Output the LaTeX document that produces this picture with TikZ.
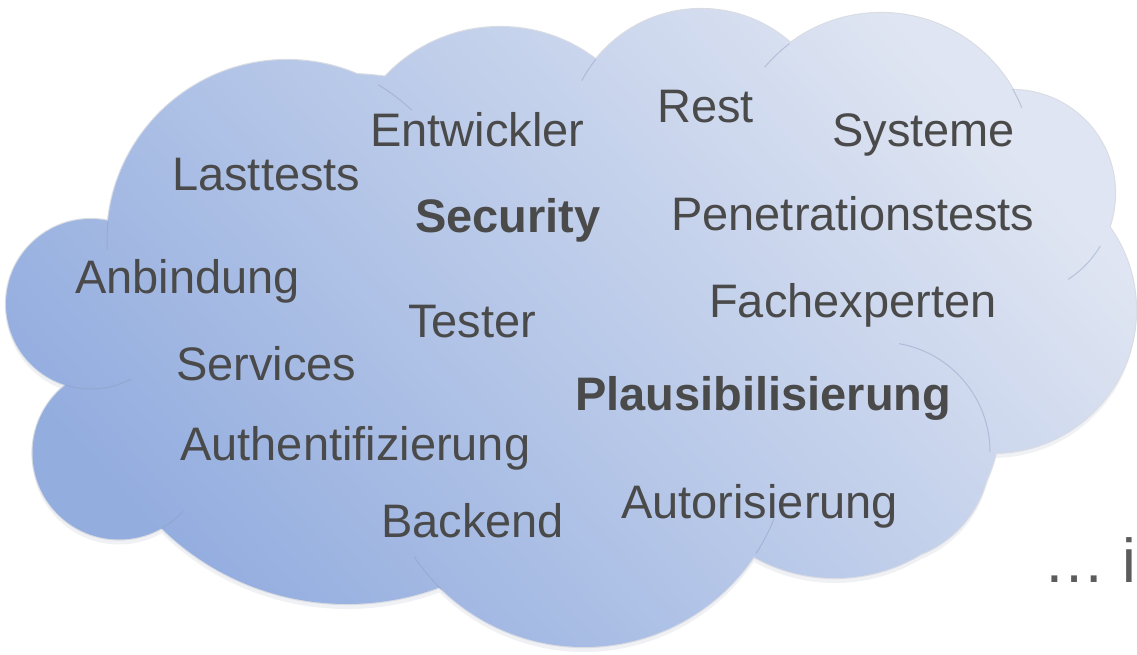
\documentclass[tikz,border=0pt]{standalone}
\usepackage{fontspec}
\setmainfont{Liberation Sans}
\definecolor{cloudA}{HTML}{93ADDF}
\definecolor{cloudB}{HTML}{DFE5F2}
\definecolor{txt}{HTML}{4A4A4A}
\definecolor{rim}{HTML}{D9DCE3}
\definecolor{inner}{HTML}{8C9CBD}
\tikzset{
  cloudshape/.style={insert path={
    (287,240) circle[radius=180]
    (500,185) circle[radius=158]
    (701,144) circle[radius=135]
    (881,165) circle[radius=152]
    (1012,193) circle[radius=103]
    (993,310) circle[radius=143]
    (880,452) circle[radius=110]
    (835,412) circle[radius=166]
    (584,442) circle[radius=205]
    (347,339) circle[radius=265]
    (119,453) circle[radius=86.5]
    (91,304) circle[radius=85]
    (379,83) -- (596,60) -- (790,43) -- (1013,90) -- (1100,245) -- (989,453)
      -- (943,538) -- (757,553) -- (440,588) -- (161,528) -- (65,385) -- (111,222) -- cycle
  }},
  innerarc/.style={draw=inner, draw opacity=0.45, line width=1pt},
  word/.style={font=\fontsize{47}{47}\selectfont, text=txt, inner sep=0pt, anchor=base west},
  boldword/.style={word, font=\fontsize{47}{47}\selectfont\bfseries}
}
\begin{document}
\begin{tikzpicture}[x=1pt,y=-1pt]
\useasboundingbox (0,0) rectangle (1137,655);
% soft shadow rim below
\fill[rim, opacity=0.4, yshift=-5pt, cloudshape];
% outline rim
\draw[rim, line width=2.2pt, cloudshape];
% cloud body
\shade[left color=cloudA, right color=cloudB, shading angle=132, cloudshape];
% inner arcs
\draw[innerarc] (287,240) ++(-59.6:180) arc[start angle=-59.6, end angle=-46, radius=180];
\draw[innerarc] (287,240) ++(186:180) arc[start angle=186, end angle=177, radius=180];
\draw[innerarc] (701,144) ++(-141:135) arc[start angle=-141, end angle=-152, radius=135];
\draw[innerarc] (881,165) ++(-127:152) arc[start angle=-127, end angle=-140, radius=152];
\draw[innerarc] (881,165) ++(-30:152) arc[start angle=-30, end angle=-22, radius=152];
\draw[innerarc] (1012,193) ++(31:103) arc[start angle=31, end angle=57, radius=103];
\draw[innerarc] (880,452) ++(-80:110) arc[start angle=-80, end angle=0, radius=110];
\draw[innerarc] (584,442) ++(33:205) arc[start angle=33, end angle=22, radius=205];
\draw[innerarc] (584,442) ++(134:205) arc[start angle=134, end angle=146, radius=205];
\draw[innerarc] (119,453) ++(61:86.5) arc[start angle=61, end angle=42, radius=86.5];
\draw[innerarc] (91,304) ++(108:85) arc[start angle=108, end angle=62, radius=85];
% words
\node[word] (rest) at (657,123) {Rest};
\node[word] (entwickler) at (370,147) {Entwickler};
\node[word] (systeme) at (832,147) {Systeme};
\node[word] (lasttests) at (172,190) {Lasttests};
\node[boldword] (security) at (415,233) {Security};
\node[word] (penetration) at (671,230) {Penetrationstests};
\node[word] (anbindung) at (75,293) {Anbindung};
\node[word] (tester) at (408,337) {Tester};
\node[word] (fachexperten) at (709,317) {Fachexperten};
\node[word] (services) at (176,380) {Services};
\node[boldword] (plausi) at (575,410) {Plausibilisierung};
\node[word] (authent) at (180,460) {Authentifizierung};
\node[word] (backend) at (381,537) {Backend};
\node[word] (autor) at (621,518) {Autorisierung};
\node[word, font=\fontsize{62}{62}\selectfont, text=txt!90] (more) at (1043,582) {… i};
\end{tikzpicture}
\end{document}
